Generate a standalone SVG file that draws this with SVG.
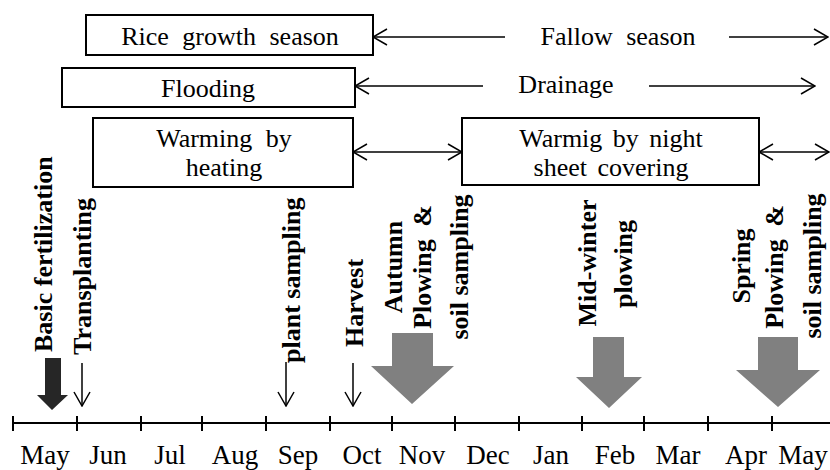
<svg xmlns="http://www.w3.org/2000/svg" width="830" height="470" viewBox="0 0 830 470">
<style>
.box{fill:#fff;stroke:#000;stroke-width:2}
text{font-family:"Liberation Serif","Times New Roman",Tinos,"DejaVu Serif",serif}
.t{font-size:26px;fill:#000;text-anchor:middle;word-spacing:7px}
.b{font-size:26px;font-weight:bold;fill:#000}
.m{font-size:27px;fill:#000;text-anchor:middle}
.ln{stroke:#000;stroke-width:1.5;fill:none}
.ar{stroke:#000;stroke-width:1.5;fill:none;marker-end:url(#open)}
.ar2{stroke:#000;stroke-width:1.5;fill:none;marker-start:url(#open);marker-end:url(#open)}
.ars{stroke:#000;stroke-width:1.5;fill:none;marker-start:url(#open)}
.gray{fill:#808080}
.dark{fill:#262626}
</style>
<defs>
<marker id="open" viewBox="0 0 16 18" refX="15" refY="9" markerWidth="16" markerHeight="18" orient="auto-start-reverse" markerUnits="userSpaceOnUse">
<path d="M1,1 L15,9 L1,17" fill="none" stroke="#000" stroke-width="1.5"/>
</marker>
</defs>

<g id="rice-growth-season">
<rect class="box" x="86" y="15" width="287" height="40"/>
<text class="t" x="230" y="45">Rice growth season</text>
</g>
<g id="flooding">
<rect class="box" x="62" y="68" width="293" height="39"/>
<text class="t" x="208" y="97">Flooding</text>
</g>
<g id="warming-heating">
<rect class="box" x="93" y="118" width="260" height="69"/>
<text class="t" x="224" y="147">Warming by</text>
<text class="t" x="224" y="176">heating</text>
</g>
<g id="warming-sheet">
<rect class="box" x="462" y="118" width="297" height="67"/>
<text class="t" x="611" y="147" style="word-spacing:4px">Warmig by night</text>
<text class="t" x="611" y="176" style="word-spacing:4px">sheet covering</text>
</g>
<g id="fallow-season">
<text class="t" x="618" y="45">Fallow season</text>
</g>
<g id="drainage">
<text class="t" x="566" y="93">Drainage</text>
</g>

<g id="connectors">
<line class="ars" x1="373" y1="37" x2="505" y2="37"/>
<line class="ar" x1="729" y1="37" x2="828" y2="37"/>
<line class="ars" x1="355" y1="86" x2="483" y2="86"/>
<line class="ar" x1="649" y1="86" x2="815" y2="86"/>
<line class="ar2" x1="353" y1="152" x2="462" y2="152"/>
<line class="ar2" x1="759" y1="152" x2="829" y2="152"/>
<line class="ar" x1="82" y1="363" x2="82" y2="406"/>
<line class="ar" x1="286" y1="362" x2="286" y2="406"/>
<line class="ar" x1="353" y1="363" x2="353" y2="406"/>
</g>

<g id="axis">
<line class="ln" x1="13" y1="423" x2="830" y2="423" style="stroke-width:2"/>
<path class="ln" style="stroke-width:2" d="M13,416V431M77,416V431M141,416V431M202,416V431M266,416V431M330,416V431M392,416V431M455,416V431M519,416V431M582,416V431M644,416V431M708,416V431M772,416V431"/>
<text class="m" x="45" y="464">May</text>
<text class="m" x="108" y="464">Jun</text>
<text class="m" x="170" y="464">Jul</text>
<text class="m" x="235" y="464">Aug</text>
<text class="m" x="298" y="464">Sep</text>
<text class="m" x="362" y="464">Oct</text>
<text class="m" x="422" y="464">Nov</text>
<text class="m" x="488" y="464">Dec</text>
<text class="m" x="551" y="464">Jan</text>
<text class="m" x="615" y="464">Feb</text>
<text class="m" x="678" y="464">Mar</text>
<text class="m" x="746" y="464">Apr</text>
<text class="m" x="803" y="464">May</text>
</g>

<g id="basic-fertilization">
<polygon class="dark" points="45,358 61,358 61,395 68,395 52,410 37,395 45,395"/>
<text class="b" transform="translate(52,352) rotate(-90)">Basic fertilization</text>
</g>
<g id="transplanting">
<text class="b" transform="translate(91,355) rotate(-90)">Transplanting</text>
</g>
<g id="plant-sampling">
<text class="b" transform="translate(300,363) rotate(-90)">plant sampling</text>
</g>
<g id="harvest">
<text class="b" transform="translate(363,347) rotate(-90)">Harvest</text>
</g>
<g id="autumn-plowing">
<polygon class="gray" points="392,333 433,333 433,366 454,366 412,404 371,366 392,366"/>
<text class="b" text-anchor="middle" transform="translate(402,267) rotate(-90)">Autumn</text>
<text class="b" text-anchor="middle" transform="translate(431,267) rotate(-90)" style="word-spacing:6px">Plowing &amp;</text>
<text class="b" text-anchor="middle" transform="translate(468,267) rotate(-90)">soil sampling</text>
</g>
<g id="mid-winter-plowing">
<polygon class="gray" points="593,337 624,337 624,377 642,377 609,408 576,377 593,377"/>
<text class="b" text-anchor="middle" transform="translate(596,263) rotate(-90)">Mid-winter</text>
<text class="b" text-anchor="middle" transform="translate(632,264) rotate(-90)">plowing</text>
</g>
<g id="spring-plowing">
<polygon class="gray" points="758,337 798,337 798,370 820,370 778,407 736,370 758,370"/>
<text class="b" text-anchor="middle" transform="translate(750,266) rotate(-90)">Spring</text>
<text class="b" text-anchor="middle" transform="translate(783,267) rotate(-90)" style="word-spacing:6px">Plowing &amp;</text>
<text class="b" text-anchor="middle" transform="translate(821,266) rotate(-90)">soil sampling</text>
</g>
</svg>
